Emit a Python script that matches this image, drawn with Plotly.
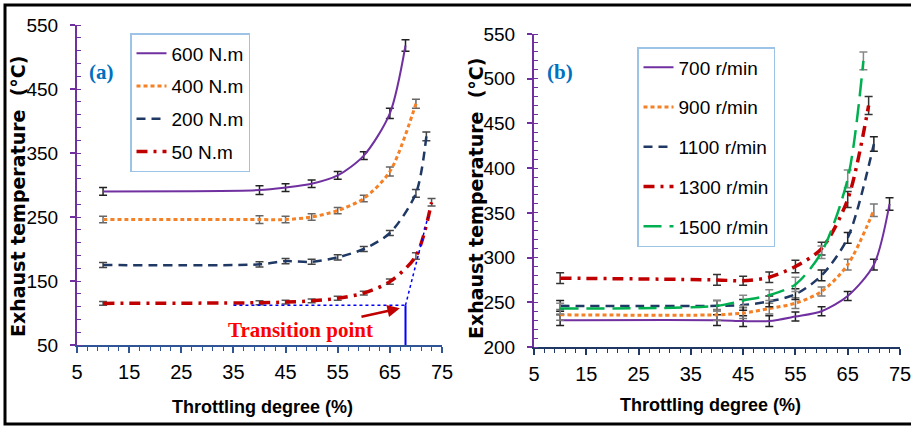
import plotly.graph_objects as go

# ---------------- data: panel (a) torque series ----------------
a_names = ["600 N.m", "400 N.m", "200 N.m", "50 N.m"]
a_x600 = [10, 40, 45, 50, 55, 60, 65, 68]
a_y600 = [290, 292, 296, 302, 315, 346, 412, 518]
a_e600 = [6, 7, 6, 6, 6, 6, 8, 9]
a_x400 = [10, 40, 45, 50, 55, 60, 65, 70]
a_y400 = [246, 246, 246, 250, 260, 279, 321, 427]
a_e400 = [5, 6, 5, 5, 5, 5, 7, 7]
a_x200 = [10, 40, 45, 50, 55, 60, 65, 70, 72]
a_y200 = [175, 176, 181, 180, 187, 200, 225, 287, 376]
a_e200 = [4, 4, 4, 4, 4, 4, 4, 6, 7]
a_x50 = [10, 40, 45, 50, 55, 60, 65, 70, 73]
a_y50 = [115, 116, 117, 119, 123, 131, 149, 189, 273]
a_e50 = [3, 3, 3, 3, 3, 3, 4, 5, 6]

# ---------------- data: panel (b) speed series ----------------
b_names = ["700 r/min", "900 r/min", "1100 r/min", "1300 r/min", "1500 r/min"]
b_x700 = [10, 40, 45, 50, 55, 60, 65, 70, 73]
b_y700 = [230, 230, 229, 229, 234, 240, 257, 292, 360]
b_e700 = [6, 6, 6, 6, 5, 5, 5, 6, 7]
b_x900 = [10, 40, 45, 50, 55, 60, 65, 70]
b_y900 = [236, 236, 238, 243, 249, 262, 292, 353]
b_e900 = [6, 6, 6, 6, 6, 5, 6, 7]
b_x1100 = [10, 40, 45, 50, 55, 60, 65, 70]
b_y1100 = [246, 246, 247, 251, 259, 280, 322, 427]
b_e1100 = [6, 6, 6, 6, 6, 6, 6, 8]
b_x1300 = [10, 40, 45, 50, 55, 60, 65, 69]
b_y1300 = [277, 275, 274, 278, 290, 310, 365, 470]
b_e1300 = [6, 6, 5, 6, 7, 7, 9, 10]
b_x1500 = [10, 40, 45, 50, 55, 60, 65, 68]
b_y1500 = [243, 246, 252, 258, 270, 306, 388, 520]
b_e1500 = [6, 6, 6, 6, 8, 7, 10, 10]

# transition point annotation (panel a)
trans_x = [35, 68, 72.3]
trans_y = [112, 250]
trans_label = "Transition point"

x_ticks = [5, 15, 25, 35, 45, 55, 65, 75]

SANS = "Liberation Sans Narrow, Arial Narrow, Liberation Sans, Arial, sans-serif"
SERIF = "Liberation Serif, Times New Roman, serif"

PURPLE = "#7030A0"
ORANGE = "#F58025"
NAVY = "#1F3864"
RED = "#C00000"
GREEN = "#00B050"

DOT = "4px,3px"
DASH = "9px,6px"
DASHDOT = "11px,6px,3px,6px"
LONGDASH = "18px,8px"

fig = go.Figure()

def add(xs, ys, es, name, color, dash, width, ecol, xa, ya, legend):
    fig.add_trace(go.Scatter(
        x=xs, y=ys, name=name, mode="lines",
        line=dict(color=color, dash=dash, width=width, shape="spline", smoothing=0.8),
        error_y=dict(type="data", array=es, color=ecol, thickness=1.5, width=4),
        xaxis=xa, yaxis=ya, legend=legend, legendgroup=name,
    ))

add(a_x600, a_y600, a_e600, a_names[0], PURPLE, "solid", 2, "#222222", "x", "y", "legend")
add(a_x400, a_y400, a_e400, a_names[1], ORANGE, DOT, 3, "#666666", "x", "y", "legend")
add(a_x200, a_y200, a_e200, a_names[2], NAVY, DASH, 2.5, "#444444", "x", "y", "legend")
add(a_x50, a_y50, a_e50, a_names[3], RED, DASHDOT, 3.5, "#555555", "x", "y", "legend")

add(b_x700, b_y700, b_e700, b_names[0], PURPLE, "solid", 2, "#222222", "x2", "y2", "legend2")
add(b_x900, b_y900, b_e900, b_names[1], ORANGE, DOT, 3, "#777777", "x2", "y2", "legend2")
add(b_x1100, b_y1100, b_e1100, b_names[2], NAVY, DASH, 2.5, "#222222", "x2", "y2", "legend2")
add(b_x1300, b_y1300, b_e1300, b_names[3], RED, DASHDOT, 3.5, "#333333", "x2", "y2", "legend2")
add(b_x1500, b_y1500, b_e1500, b_names[4], GREEN, LONGDASH, 2.5, "#888888", "x2", "y2", "legend2")

W, H = 911, 426

def xax(dom, linecolor, anchor):
    return dict(domain=dom, range=[5, 75], tickmode="array", tickvals=x_ticks, anchor=anchor,
                automargin=False, ticklabeloverflow="allow",
                showline=True, linecolor=linecolor, linewidth=2, showgrid=False, zeroline=False,
                ticks="outside", ticklen=6, tickwidth=1.5, tickcolor=linecolor,
                minor=dict(tick0=5, dtick=2, ticks="outside", ticklen=4, tickwidth=1, tickcolor=linecolor),
                tickfont=dict(family=SANS, size=20, color="black"), ticklabelstandoff=2)

def yax(dom, rng, dt, mdt, anchor):
    return dict(domain=dom, range=rng, tick0=rng[0], dtick=dt, anchor=anchor,
                automargin=False, ticklabeloverflow="allow",
                showline=True, linecolor=PURPLE, linewidth=2, showgrid=False, zeroline=False,
                ticks="outside", ticklen=5, tickwidth=1.5, tickcolor=PURPLE,
                minor=dict(tick0=rng[0], dtick=mdt, ticks="inside", ticklen=4, tickwidth=1, tickcolor=PURPLE),
                tickfont=dict(family=SANS, size=19, color="black"), ticklabelstandoff=8)

legend_common = dict(bgcolor="white", bordercolor="#9DC3E6", borderwidth=1.5,
                     font=dict(family=SANS, size=19, color="black"),
                     xanchor="left", yanchor="top", itemwidth=30)

fig.update_layout(
    template="none",
    width=W, height=H, margin=dict(l=0, r=0, t=0, b=0, pad=0, autoexpand=False),
    paper_bgcolor="white", plot_bgcolor="white",
    xaxis=xax([77 / W, 442 / W], "#2F5597", "y"),
    yaxis=yax([1 - 345 / H, 1 - 25 / H], [50, 550], 100, 20, "x"),
    xaxis2=xax([534 / W, 900 / W], NAVY, "y2"),
    yaxis2=yax([1 - 347 / H, 1 - 34 / H], [200, 550], 50, 10, "x2"),
    legend=dict(x=130 / W, y=1 - 33 / H, tracegroupgap=5, **legend_common),
    legend2=dict(x=637 / W, y=1 - 47 / H, tracegroupgap=12, **legend_common),
    showlegend=True,
)

# transition point guides
fig.add_shape(type="line", xref="x", yref="y", x0=trans_x[0], x1=trans_x[1], y0=trans_y[0], y1=trans_y[0],
              line=dict(color="#0000FF", width=1.5, dash="dot"))
fig.add_shape(type="line", xref="x", yref="y", x0=trans_x[1], x1=trans_x[1], y0=50, y1=trans_y[0],
              line=dict(color="#0000FF", width=2))
fig.add_shape(type="line", xref="x", yref="y", x0=trans_x[1], x1=trans_x[2], y0=trans_y[0], y1=trans_y[1],
              line=dict(color="#0000FF", width=1.5, dash="dot"))

fig.add_annotation(xref="x", yref="y", x=67.3, y=108, axref="x", ayref="y", ax=47.8, ay=73,
                   text="<b>" + trans_label + "</b>", showarrow=True, arrowhead=2, arrowsize=1,
                   arrowwidth=2.5, arrowcolor=RED, standoff=2,
                   font=dict(family=SERIF, size=21, color="#FF0000"))

# panel labels
for cx, lab in [(101.7, "(a)"), (560, "(b)")]:
    fig.add_annotation(xref="paper", yref="paper", x=cx / W, y=1 - 71.7 / H, text="<b>" + lab + "</b>",
                       xanchor="center", yanchor="middle",
                       showarrow=False, font=dict(family=SERIF, size=21, color="#0070C0"))

# axis titles
for cx, cy in [(262, 407), (710, 405)]:
    fig.add_annotation(xref="paper", yref="paper", x=cx / W, y=1 - cy / H,
                       xanchor="center", yanchor="middle",
                       text="<b>Throttling degree (%)</b>", showarrow=False,
                       font=dict(family=SANS, size=18, color="black"))
for cx, cy in [(18, 197), (476, 199)]:
    fig.add_annotation(xref="paper", yref="paper", x=cx / W, y=1 - cy / H,
                       xanchor="center", yanchor="middle",
                       text="<b>Exhaust temperature  (°C)</b>", showarrow=False, textangle=-90,
                       font=dict(family="DejaVu Sans, Arial, sans-serif", size=19, color="black"))

# outer frame
fig.add_shape(type="rect", xref="paper", yref="paper", x0=5 / W, x1=1.01, y0=1 - 424 / H, y1=1 - 5 / H,
              line=dict(color="black", width=3), fillcolor="rgba(0,0,0,0)")

fig.write_html("out.html")
